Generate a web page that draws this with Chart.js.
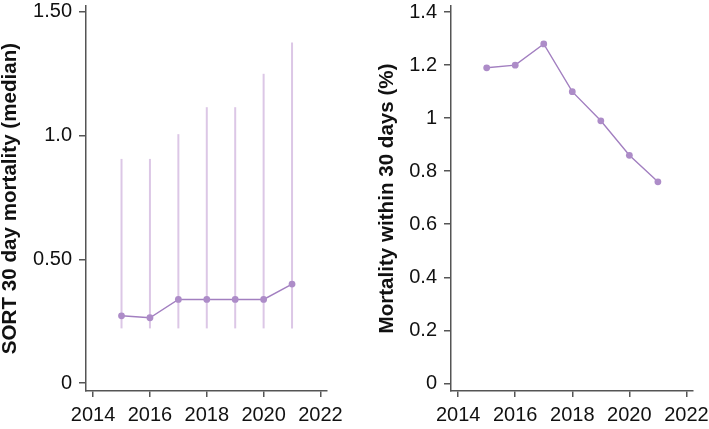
<!DOCTYPE html>
<html>
<head>
<meta charset="utf-8">
<script src="https://cdn.jsdelivr.net/npm/chart.js@4"></script>
<style>
  html, body { margin: 0; padding: 0; background: #fff; }
  #wrap { position: relative; width: 709px; height: 429px; overflow: hidden; }
  #c1 { position: absolute; left: 0; top: 0; }
  #c2 { position: absolute; left: 355px; top: 0; }
</style>
</head>
<body>
<div id="wrap">
  <canvas id="c1" width="355" height="429"></canvas>
  <canvas id="c2" width="354" height="429"></canvas>
</div>
<script>
// ---- data ----
const years = [2015, 2016, 2017, 2018, 2019, 2020, 2021];
const sortMedian = [0.272, 0.264, 0.338, 0.338, 0.338, 0.338, 0.400];
const sortLow = [0.221, 0.221, 0.221, 0.221, 0.221, 0.221, 0.221];
const sortHigh = [0.906, 0.906, 1.006, 1.115, 1.115, 1.250, 1.376];
const mortality = [1.19, 1.20, 1.28, 1.10, 0.99, 0.86, 0.76];
const xTicks = [2014, 2016, 2018, 2020, 2022];
const leftYTicks = [0, 0.5, 1.0, 1.5];
const leftYLabels = ['0', '0.50', '1.0', '1.50'];
const rightYTicks = [0, 0.2, 0.4, 0.6, 0.8, 1.0, 1.2, 1.4];
const rightYLabels = ['0', '0.2', '0.4', '0.6', '0.8', '1', '1.2', '1.4'];
const leftTitle = 'SORT 30 day mortality (median)';
const rightTitle = 'Mortality within 30 days (%)';

const FONT = '"Liberation Sans", Arial, Helvetica, sans-serif';
const AXIS = '#555555';
const TXT = '#111111';
const LINE = '#a27fc0';
const POINT = '#ad8cc8';
const ERR = '#dcc7e6';

Chart.defaults.font.family = FONT;
Chart.defaults.animation = false;

const errorBars = {
  id: 'errorBars',
  beforeDatasetsDraw(chart, args, opts) {
    if (!opts || !opts.low) return;
    const ctx = chart.ctx, xs = chart.scales.x, ys = chart.scales.y;
    ctx.save();
    ctx.strokeStyle = ERR;
    ctx.lineWidth = 2;
    opts.x.forEach((xv, i) => {
      const px = xs.getPixelForValue(xv);
      ctx.beginPath();
      ctx.moveTo(px, ys.getPixelForValue(opts.low[i]));
      ctx.lineTo(px, ys.getPixelForValue(opts.high[i]));
      ctx.stroke();
    });
    ctx.restore();
  }
};

function makeChart(id, values, yMin, yMax, yTicks, yLabels, title, yWidth, pad, titlePad, err) {
  return new Chart(document.getElementById(id), {
    type: 'line',
    data: {
      datasets: [{
        data: years.map((y, i) => ({ x: y, y: values[i] })),
        borderColor: LINE,
        borderWidth: 1.4,
        pointBackgroundColor: POINT,
        pointBorderColor: POINT,
        pointRadius: 3.4,
        pointBorderWidth: 0,
        tension: 0
      }]
    },
    options: {
      responsive: false,
      animation: false,
      layout: { padding: pad },
      plugins: {
        legend: { display: false },
        tooltip: { enabled: false },
        errorBars: err || {}
      },
      scales: {
        x: {
          type: 'linear',
          min: 2013.75,
          max: 2022.23,
          afterBuildTicks: s => { s.ticks = xTicks.map(v => ({ value: v })); },
          afterFit: s => { s.height = 38; s.paddingLeft = 0; s.paddingRight = 0; },
          border: { display: true, color: AXIS, width: 1.5 },
          grid: { display: true, drawOnChartArea: false, drawTicks: true, tickLength: 6, color: AXIS, lineWidth: 1.5 },
          ticks: { color: TXT, font: { size: 20 }, padding: 6, maxRotation: 0, autoSkip: false, callback: v => String(v) }
        },
        y: {
          type: 'linear',
          min: yMin,
          max: yMax,
          afterBuildTicks: s => { s.ticks = yTicks.map(v => ({ value: v })); },
          afterFit: s => { s.width = yWidth; s.paddingTop = 0; s.paddingBottom = 0; },
          border: { display: true, color: AXIS, width: 1.5 },
          grid: { display: true, drawOnChartArea: false, drawTicks: true, tickLength: 7, color: AXIS, lineWidth: 1.5 },
          ticks: {
            color: TXT, font: { size: 20 }, padding: 7, autoSkip: false,
            callback: (v) => { const k = yTicks.findIndex(t => Math.abs(t - v) < 1e-9); return k >= 0 ? yLabels[k] : ''; }
          },
          title: { display: true, text: title, color: TXT, font: { size: 20.6, weight: 'bold' }, padding: { top: titlePad, bottom: 0 } }
        }
      }
    },
    plugins: [errorBars]
  });
}

makeChart('c1', sortMedian, -0.032, 1.524, leftYTicks, leftYLabels, leftTitle, 86,
  { left: 0, right: 28, top: 6, bottom: 0 }, -2,
  { x: years, low: sortLow, high: sortHigh });
makeChart('c2', mortality, -0.029, 1.423, rightYTicks, rightYLabels, rightTitle, 96,
  { left: 0, right: 16, top: 6, bottom: 0 }, 20);
</script>
</body>
</html>
